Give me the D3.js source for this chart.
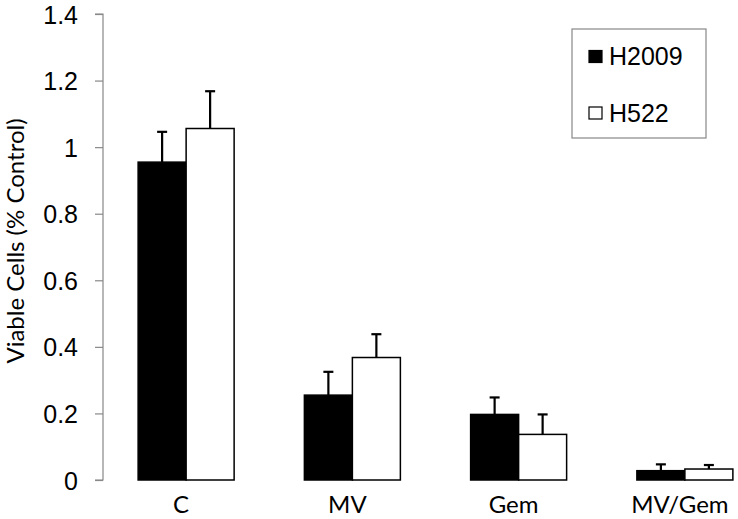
<!DOCTYPE html>
<html><head><meta charset="utf-8">
<script src="https://cdn.jsdelivr.net/npm/d3@7"></script>
<style>body{margin:0;background:#fff}svg{display:block}</style>
</head><body>
<script>
const categories = ["C", "MV", "Gem", "MV/Gem"];
const seriesNames = ["H2009", "H522"];
const h2009 = [0.955, 0.255, 0.197, 0.028];
const h2009Err = [0.091, 0.070, 0.051, 0.019];
const h522 = [1.056, 0.368, 0.137, 0.033];
const h522Err = [0.112, 0.070, 0.060, 0.012];
const yTicks = [0, 0.2, 0.4, 0.6, 0.8, 1, 1.2, 1.4];
const yTitle = "Viable Cells (% Control)";

const W = 738, H = 519;
const svg = d3.select("body").append("svg").attr("width", W).attr("height", H);

const y = d3.scaleLinear().domain([0, 1.4]).range([480, 14]);
const x0 = d3.scaleBand().domain(categories).range([103, 768]).paddingInner(0).paddingOuter(0);
const x1 = d3.scaleBand().domain(seriesNames).range([0, 96]);
const barOffset = (x0.bandwidth() - 96) / 2;

// y axis
const yAxis = d3.axisLeft(y).tickValues(yTicks).tickSize(8).tickPadding(17)
  .tickFormat(d => d3.format("")(d));
const gy = svg.append("g").attr("transform", "translate(103,0)").call(yAxis);
gy.select(".domain").attr("stroke", "#888").attr("stroke-width", 1.2).attr("d", `M-8,${y(1.4)}H0V${y(0)}H-8`);
gy.selectAll(".tick line").attr("stroke", "#888").attr("stroke-width", 1.2);
gy.selectAll(".tick text").attr("font-family", "Liberation Sans, Arial, sans-serif")
  .attr("font-size", 25).attr("fill", "#000").attr("dy", "0.36em");

// y title
svg.append("text").attr("transform", `translate(24,241) rotate(-90)`)
  .attr("text-anchor", "middle").attr("font-family", "Lato, 'Open Sans', sans-serif")
  .attr("font-size", 24).attr("fill", "#000").text(yTitle);

// bars
const data = [h2009, h522];
const errs = [h2009Err, h522Err];
const fills = ["#000", "#fff"];
seriesNames.forEach((s, si) => {
  const g = svg.append("g");
  categories.forEach((c, ci) => {
    const v = data[si][ci];
    const bx = x0(c) + barOffset + x1(s);
    const bw = x1.bandwidth();
    const cx = bx + bw / 2;
    const top = y(v + errs[si][ci]);
    g.append("line").attr("x1", cx).attr("x2", cx).attr("y1", y(v)).attr("y2", top)
      .attr("stroke", "#000").attr("stroke-width", 2.2);
    g.append("line").attr("x1", cx - 5).attr("x2", cx + 5).attr("y1", top).attr("y2", top)
      .attr("stroke", "#000").attr("stroke-width", 2.2);
    g.append("rect").attr("x", bx).attr("y", y(v)).attr("width", bw).attr("height", y(0) - y(v))
      .attr("fill", fills[si]).attr("stroke", "#000").attr("stroke-width", 1.5);
  });
});

// x labels
categories.forEach(c => {
  svg.append("text").attr("x", x0(c) + x0.bandwidth() / 2 - 5).attr("y", 513)
    .attr("text-anchor", "middle").attr("font-family", "Lato, 'Open Sans', sans-serif")
    .attr("font-size", 24).attr("fill", "#000").text(c);
});

// legend
const lg = svg.append("g");
lg.append("rect").attr("x", 572).attr("y", 29).attr("width", 134).attr("height", 109)
  .attr("fill", "#fff").attr("stroke", "#888").attr("stroke-width", 1.2);
seriesNames.forEach((s, i) => {
  const yy = [56.5, 113][i];
  lg.append("rect").attr("x", 589).attr("y", yy - 6).attr("width", 13).attr("height", 12)
    .attr("fill", fills[i]).attr("stroke", "#000").attr("stroke-width", 1.2);
  lg.append("text").attr("x", 609).attr("y", yy + 8.5).attr("font-family", "Liberation Sans, Arial, sans-serif")
    .attr("font-size", 25).attr("fill", "#000").text(s);
});
</script>
</body></html>
